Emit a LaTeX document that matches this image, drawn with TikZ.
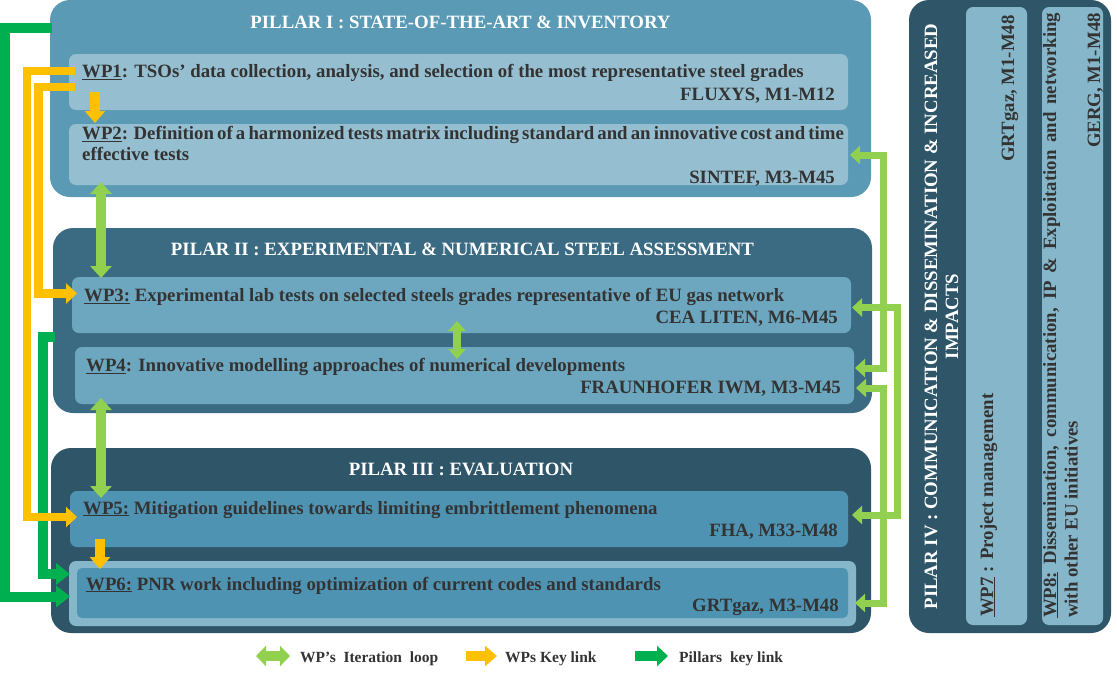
\documentclass[tikz,border=0pt]{standalone}
\usepackage{fontspec}
\setmainfont{Liberation Serif}
\usetikzlibrary{arrows.meta,calc}
\definecolor{pIcol}{HTML}{5A9AB5}
\definecolor{wpIcol}{HTML}{95BFD0}
\definecolor{pIIcol}{HTML}{3B6B82}
\definecolor{wpIIcol}{HTML}{6CA7BF}
\definecolor{pIIIcol}{HTML}{2F5668}
\definecolor{wpIIIcol}{HTML}{4F93B2}
\definecolor{wpRing}{HTML}{86B6CA}
\definecolor{wpIVcol}{HTML}{86B6CA}
\definecolor{txt}{HTML}{333333}
\definecolor{lgreen}{HTML}{92D050}
\definecolor{korange}{HTML}{FFC000}
\definecolor{kgreen}{HTML}{00B050}
\newcommand\wpfont{\fontsize{18.8pt}{21pt}\selectfont\bfseries}
\newcommand\legfont{\fontsize{15.5pt}{18pt}\selectfont\bfseries}
\begin{document}
\begin{tikzpicture}[x=1pt,y=-1pt,
  box/.style={inner sep=0pt, outer sep=0pt, anchor=north west},
  pillarbox/.style={box, rounded corners=20pt},
  wpbox/.style={box, rounded corners=7pt},
  wptext/.style={inner sep=0pt, text=txt, font=\wpfont},
  titletext/.style={inner sep=0pt, text=white, font=\wpfont, anchor=base},
  legtext/.style={inner sep=0pt, text=txt, font=\legfont, anchor=base west},
  iter/.style={draw=lgreen, line width=10pt, {Triangle[width=21pt,length=12pt]}-{Triangle[width=21pt,length=12pt]}},
  loopline/.style={draw=lgreen, line width=7pt, {Triangle[width=18pt,length=10pt]}-{Triangle[width=18pt,length=10pt]}},
  keyline/.style={draw=korange, line width=8.5pt, -{Triangle[width=20pt,length=11pt]}},
  keyarrow/.style={draw=korange, line width=10pt, -{Triangle[width=20pt,length=12pt]}},
  pillarline/.style={draw=kgreen, line width=10pt, -{Triangle[width=21pt,length=14pt]}}
]
\useasboundingbox (0,0) rectangle (1117,675);

% pillars
\node[pillarbox, fill=pIcol, minimum width=821pt, minimum height=197pt] (p1) at (50,0) {};
\node[pillarbox, fill=pIIcol, minimum width=819pt, minimum height=185pt] (p2) at (53,228) {};
\node[pillarbox, fill=pIIIcol, minimum width=820pt, minimum height=185pt] (p3) at (51,448) {};
\node[pillarbox, fill=pIIIcol, minimum width=202pt, minimum height=633pt] (p4) at (909,0) {};

% work packages
\node[wpbox, fill=wpIcol, minimum width=779pt, minimum height=56pt] (wp1) at (69,54) {};
\node[wpbox, fill=wpIcol, minimum width=779pt, minimum height=61pt] (wp2) at (69,124) {};
\node[wpbox, fill=wpIIcol, minimum width=779pt, minimum height=56pt] (wp3) at (72,277) {};
\node[wpbox, fill=wpIIcol, minimum width=779pt, minimum height=57pt] (wp4) at (75,347) {};
\node[wpbox, fill=wpIIIcol, minimum width=778pt, minimum height=56pt] (wp5) at (70,491) {};
\node[wpbox, fill=wpRing, minimum width=787pt, minimum height=65pt] (wp6) at (69,561) {};
\node[wpbox, fill=wpIIIcol, rounded corners=5pt, minimum width=771pt, minimum height=50pt] (wp6in) at (77,568) {};
\node[wpbox, fill=wpIVcol, minimum width=61pt, minimum height=618pt] (wp7) at (966,7) {};
\node[wpbox, fill=wpIVcol, minimum width=61pt, minimum height=618pt] (wp8) at (1042,7) {};

% coordinates for routing
\coordinate (gA) at (5,300);
\coordinate (gB) at (42.5,450);
\coordinate (oA) at (27,300);
\coordinate (oB) at (38.5,200);
\coordinate (lA) at (883,250);
\coordinate (lB) at (897.5,400);
\coordinate (lC) at (883,500);

% pillars key links
\draw[pillarline] ($(p1.north west)+(2,27.5)$) -| (gA) |- ($(wp6.west)+(1,3)$);
\draw[pillarline] ($(p2.north west)+(2,109)$) -| (gB) |- ($(wp6.west)+(1,-19.5)$);

% WPs key links
\draw[keyline] ($(wp1.west)+(6,-11)$) -| (oA) |- ($(wp5.west)+(7,-2)$);
\draw[keyline] ($(wp1.west)+(6,5)$) -| (oB) |- ($(wp3.west)+(5,-11.5)$);
\draw[keyarrow] ($(wp1.south west)+(26,-18)$) -- ($(wp2.north west)+(26,-1)$);
\draw[keyarrow] ($(wp5.south west)+(30,-8)$) -- ($(wp6.north west)+(31,8)$);

% iteration loops
\draw[iter] ($(wp2.south west)+(32,-3)$) -- ($(wp3.north west)+(29,1)$);
\draw[iter, line width=8pt, {Triangle[width=17pt,length=10pt]}-{Triangle[width=17pt,length=10pt]}] ($(wp3.south west)+(385,-12)$) -- ($(wp4.north west)+(382,12)$);
\draw[iter] ($(wp4.south west)+(26,-6)$) -- ($(wp5.north west)+(31,7)$);
\draw[loopline] ($(wp2.east)+(2,0.5)$) -| (lA) |- ($(wp4.east)+(1,-7.5)$);
\draw[loopline] ($(wp4.east)+(2,12.5)$) -| (lC) |- ($(wp6.east)+(-1,9.5)$);
\draw[loopline] ($(wp3.east)+(1,2.5)$) -| (lB) |- ($(wp5.east)+(4,-4)$);

% titles
\node[titletext] (t1) at ($(p1.north)+(0,28)$) {PILLAR I : STATE-OF-THE-ART \& INVENTORY};
\node[titletext] (t2) at ($(p2.north)+(0,27)$) {PILAR II : EXPERIMENTAL \& NUMERICAL STEEL ASSESSMENT};
\node[titletext] (t3) at ($(p3.north)+(0,27.5)$) {PILAR III : EVALUATION};
\node[titletext, rotate=90] (t4a) at (937,316.5) {PILAR IV : COMMUNICATION \& DISSEMINATION \& INCREASED};
\node[titletext, rotate=90] (t4b) at (958,316.5) {IMPACTS};

% WP texts
\node[wptext, anchor=base west] (w1a) at (82,77.5) {\underline{WP1}: TSOs’ data collection, analysis, and selection of the most representative steel grades};
\node[wptext, anchor=base east] (w1b) at (835,100) {FLUXYS, M1-M12};
\node[wptext, anchor=base west] (w2a) at (82,139.5) {\makebox[754pt][s]{\underline{WP2}: Definition of a harmonized tests matrix including standard and an innovative cost and time}};
\node[wptext, anchor=base west] (w2b) at (82,160.5) {effective tests};
\node[wptext, anchor=base east] (w2c) at (835,183) {SINTEF, M3-M45};
\node[wptext, anchor=base west] (w3a) at (84,301.5) {\underline{WP3:} Experimental lab tests on selected steels grades representative of EU gas network};
\node[wptext, anchor=base east] (w3b) at (838,323) {CEA LITEN, M6-M45};
\node[wptext, anchor=base west] (w4a) at (86,371.5) {\underline{WP4}: Innovative modelling approaches of numerical developments};
\node[wptext, anchor=base east] (w4b) at (841,393) {FRAUNHOFER IWM, M3-M45};
\node[wptext, anchor=base west] (w5a) at (83,514) {\underline{WP5:} Mitigation guidelines towards limiting embrittlement phenomena};
\node[wptext, anchor=base east] (w5b) at (838,536) {FHA, M33-M48};
\node[wptext, anchor=base west] (w6a) at (86,590) {\underline{WP6:} PNR work including optimization of current codes and standards};
\node[wptext, anchor=base east] (w6b) at (839,611) {GRTgaz, M3-M48};
\node[wptext, rotate=90, anchor=base west] (w7a) at (993,617) {\underline{WP7} : Project management};
\node[wptext, rotate=90, anchor=base east] (w7b) at (1014,15) {GRTgaz, M1-M48};
\node[wptext, rotate=90, anchor=base west] (w8a) at (1056,618) {\makebox[605pt][s]{\underline{WP8:} Dissemination, communication, IP \& Exploitation and networking}};
\node[wptext, rotate=90, anchor=base west] (w8b) at (1077.5,618) {with other EU initiatives};
\node[wptext, rotate=90, anchor=base east] (w8c) at (1100,13) {GERG, M1-M48};

% legend
\coordinate (la1) at (256,656);
\coordinate (la2) at (290,656);
\coordinate (lo1) at (466,656);
\coordinate (lo2) at (497,656);
\coordinate (lg1) at (635,656);
\coordinate (lg2) at (668,656);
\draw[iter, line width=10pt, {Triangle[width=20pt,length=10pt]}-{Triangle[width=20pt,length=10pt]}] (la1) -- (la2);
\draw[keyarrow] (lo1) -- (lo2);
\draw[pillarline, -{Triangle[width=20pt,length=11pt]}] (lg1) -- (lg2);
\node[legtext] (l1) at (300,662) {WP’s\ \ Iteration\ \ loop};
\node[legtext] (l2) at (505,662) {WPs Key link};
\node[legtext] (l3) at (679,662) {Pillars\ \ key link};
\end{tikzpicture}
\end{document}
